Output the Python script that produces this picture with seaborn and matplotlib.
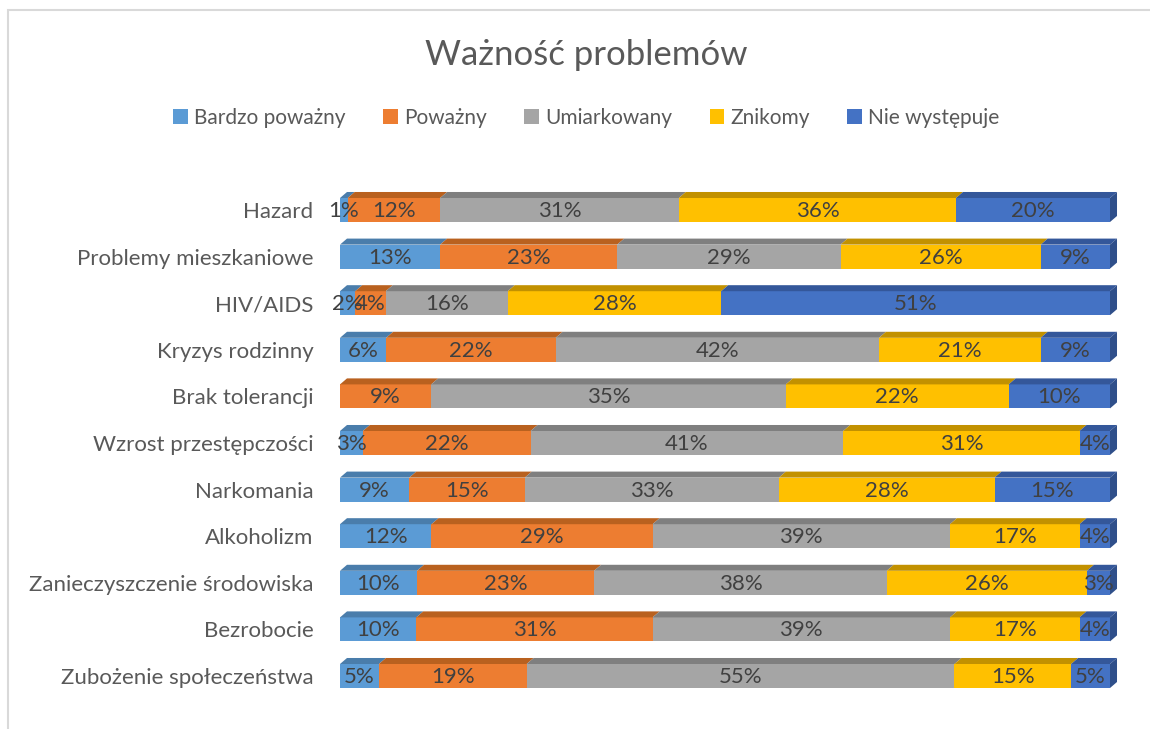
import numpy as np
import pandas as pd
import seaborn as sns
import matplotlib
matplotlib.use("Agg")
import matplotlib.pyplot as plt
from matplotlib.patches import Polygon, Rectangle

sns.set_theme(style="white")
plt.rcParams['font.family'] = ['Lato', 'DejaVu Sans']

# dane z wykresu (od góry do dołu)
kategorie = ["Hazard", "Problemy mieszkaniowe", "HIV/AIDS", "Kryzys rodzinny",
             "Brak tolerancji", "Wzrost przestępczości", "Narkomania", "Alkoholizm",
             "Zanieczyszczenie środowiska", "Bezrobocie", "Zubożenie społeczeństwa"]
serie = ["Bardzo poważny", "Poważny", "Umiarkowany", "Znikomy", "Nie występuje"]
bardzo_powazny = [1, 13, 2, 6, 0, 3, 9, 12, 10, 10, 5]
powazny = [12, 23, 4, 22, 9, 22, 15, 29, 23, 31, 19]
umiarkowany = [31, 29, 16, 42, 35, 41, 33, 39, 38, 39, 55]
znikomy = [36, 26, 28, 21, 22, 31, 28, 17, 26, 17, 15]
nie_wystepuje = [20, 9, 51, 9, 10, 4, 15, 4, 3, 4, 5]

kolory = ["#5B9BD5", "#ED7D31", "#A5A5A5", "#FFC000", "#4472C4"]
kolory_gora = ["#4A7DAB", "#B9611F", "#7F7F7F", "#C29100", "#34579A"]
bok = "#2F4F8A"

wartosci = np.array([bardzo_powazny, powazny, umiarkowany, znikomy, nie_wystepuje], dtype=float)
proc = wartosci / wartosci.sum(axis=0) * 100   # wykres 100% skumulowany
cum = np.cumsum(proc, axis=0)

fig = plt.figure(figsize=(11.5, 7.29), dpi=100)
ax = fig.add_axes([340 / 1150, 1 - 699.3 / 729, 770 / 1150, 512.6 / 729])

szer = 0.515
# rysujemy od najdłuższej sumy, kolejne krótsze na wierzchu
for i in range(4, -1, -1):
    df = pd.DataFrame({"kat": kategorie, "x": cum[i]})
    sns.barplot(data=df, x="x", y="kat", orient="h", color=kolory[i], width=szer,
                saturation=1, ax=ax, label=serie[i], edgecolor="none", linewidth=0)

ax.set_xlim(0, 100)
ax.set_ylim(len(kategorie) - 0.5, -0.5)

# efekt 3D: górne ścianki i bok
dx, dy = 0.91, 0.129
for j in range(len(kategorie)):
    yt = j - szer / 2
    yb = j + szer / 2
    lewo = 0
    for i in range(5):
        prawo = cum[i, j]
        if prawo - lewo > 0:
            ax.add_patch(Polygon([(lewo, yt), (lewo + dx, yt - dy), (prawo + dx, yt - dy), (prawo, yt)],
                                 closed=True, facecolor=kolory_gora[i], edgecolor="none", clip_on=False))
            ax.text((lewo + prawo) / 2, j + 0.02, f"{int(wartosci[i, j])}%", ha="center", va="center",
                    fontsize=16, color="#404040")
        lewo = prawo
    ax.add_patch(Polygon([(100, yt), (100 + dx, yt - dy), (100 + dx, yb - dy), (100, yb)],
                         closed=True, facecolor=bok, edgecolor="none", clip_on=False))

ax.set_xlabel("")
ax.set_ylabel("")
ax.set_xticks([])
ax.tick_params(axis="y", length=0, pad=19, labelsize=16, labelcolor="#595959")
sns.despine(ax=ax, left=True, bottom=True)
if ax.get_legend():
    ax.get_legend().remove()

h, l = ax.get_legend_handles_labels()
kolejnosc = [l.index(s) for s in serie]
fig.legend([h[k] for k in kolejnosc], serie, loc="center", bbox_to_anchor=(0.51, 1 - 118 / 729),
           ncol=5, frameon=False, fontsize=15, handlelength=0.7, handleheight=0.7,
           handletextpad=0.3, columnspacing=1.8, labelcolor="#595959")

fig.text(0.51, 1 - 55 / 729, "Ważność problemów", ha="center", va="center", fontsize=25, color="#595959")

fig.patches.append(Rectangle((8 / 1150, -0.1), 1.2, 1.1 - 10 / 729, transform=fig.transFigure,
                             fill=False, edgecolor="#D9D9D9", linewidth=1.5))

fig.savefig("out.png", dpi=100, facecolor="white")
